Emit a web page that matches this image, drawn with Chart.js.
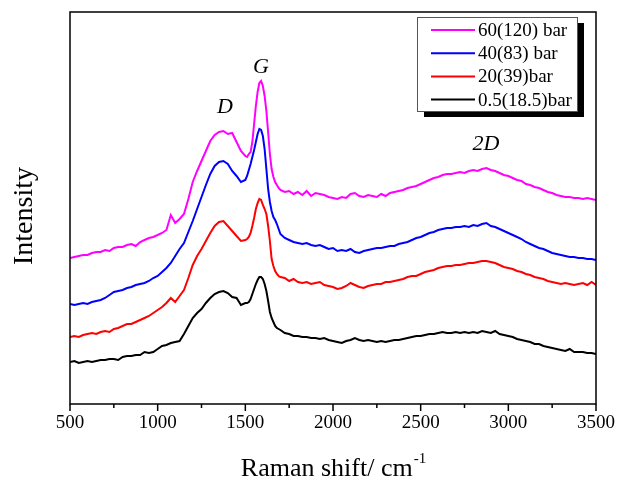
<!DOCTYPE html>
<html>
<head>
<meta charset="utf-8">
<script src="https://cdn.jsdelivr.net/npm/chart.js@4.4.0/dist/chart.umd.min.js"></script>
<style>
  html, body { margin: 0; padding: 0; background: #fff; }
  #wrap { width: 619px; height: 479px; }
</style>
</head>
<body>
<div id="wrap"><canvas id="raman"></canvas></div>
<script>
// Raman shift (cm-1): 25 step, finer around the G band
const shift = [
  500,525,550,575,600,625,650,675,700,725,750,775,800,825,850,875,900,925,950,975,
  1000,1025,1050,1075,1100,1125,1150,1175,1200,1225,1250,1275,1300,1325,1350,1375,1400,1425,1450,1475,1500,
  1510,1520,1530,1540,1550,1560,1570,1580,1590,1600,1610,1620,1630,1640,1650,1660,1670,1680,1690,
  1700,1725,1750,1775,1800,1825,1850,1875,1900,1925,1950,1975,2000,2025,2050,2075,2100,2125,2150,2175,
  2200,2225,2250,2275,2300,2325,2350,2375,2400,2425,2450,2475,2500,2525,2550,2575,2600,2625,2650,2675,
  2700,2725,2750,2775,2800,2825,2850,2875,2900,2925,2950,2975,3000,3025,3050,3075,3100,3125,3150,3175,
  3200,3225,3250,3275,3300,3325,3350,3375,3400,3425,3450,3475,3500
];

const seriesNames = ['60(120) bar', '40(83) bar', '20(39)bar', '0.5(18.5)bar'];
const seriesColors = ['#ff00ff', '#0000ff', '#ff0000', '#000000'];

// intensities (arbitrary units, offset curves as in the figure)
const bar60 = [
  146,147,148,149,149,151,152,152,154,153,156,157,157,159,160,158,162,164,166,167,
  169,171,174,189,181,185,190,205,222,233,243,253,263,269,272,273,270,271,262,253,248,
  247,250,252,262,280,298,312,321,323,318,308,293,272,250,235,227,222,219,216,
  214,212,213,210,212,209,213,208,211,210,209,207,206,205,207,206,210,211,208,207,
  209,208,207,210,208,211,212,213,214,216,217,218,220,222,224,226,227,229,230,230,
  231,232,231,233,234,233,235,236,234,233,231,229,228,226,224,223,220,219,217,216,
  214,212,211,209,208,207,207,206,206,205,206,205,204
];
const bar40 = [
  100,99,100,101,100,102,103,104,106,109,112,113,114,116,117,119,120,121,123,126,
  128,132,136,141,148,155,161,172,183,195,207,219,230,238,242,243,240,233,228,222,224,
  228,234,240,247,254,262,270,275,274,268,255,235,215,202,193,187,184,180,175,
  170,166,164,162,161,160,161,159,158,159,157,155,156,153,154,153,155,152,151,153,
  154,155,156,156,157,158,158,160,161,162,164,166,167,169,171,172,174,175,176,176,
  177,177,178,177,179,178,180,181,178,177,175,173,171,169,167,165,162,160,158,156,
  155,153,151,150,149,148,147,147,146,146,145,145,144
];
const bar20 = [
  67,68,67,69,70,71,70,72,73,72,75,76,78,80,80,82,84,86,88,91,
  94,97,101,106,102,108,114,126,139,148,155,163,171,178,182,183,178,173,168,163,164,
  165,167,171,178,186,195,201,205,204,199,195,190,178,163,145,138,133,130,128,
  127,126,123,125,122,121,122,120,121,122,119,118,117,115,116,118,121,119,117,116,
  118,119,120,120,122,122,123,124,125,127,128,128,130,132,133,134,136,137,138,138,
  139,139,140,141,141,142,143,143,142,141,139,137,136,135,133,132,130,129,127,126,
  125,123,122,121,120,121,120,119,120,121,119,122,119
];
const bar05 = [
  42,43,41,42,43,42,43,44,44,45,45,44,47,48,48,49,49,52,51,52,
  55,58,59,61,62,63,70,78,86,91,95,101,106,110,112,113,111,107,106,99,101,
  101,102,105,110,115,120,124,127,127,125,120,113,103,92,86,82,78,76,75,
  74,71,70,68,68,67,67,66,66,65,66,64,63,62,61,63,64,66,64,63,
  64,63,62,63,62,63,64,64,65,66,67,68,68,69,70,70,71,72,71,71,
  72,71,72,71,72,71,73,72,71,73,70,69,68,67,65,64,63,62,60,60,
  58,57,56,55,54,53,55,52,52,52,51,51,50
];

const xTicks = [500, 1000, 1500, 2000, 2500, 3000, 3500];
const peakLabels = [
  { text: 'D', x: 225, y: 107 },
  { text: 'G', x: 261, y: 67 },
  { text: '2D', x: 486, y: 144 }
];

const serif = "'Liberation Serif', 'Times New Roman', serif";
const allSeries = [bar60, bar40, bar20, bar05];

const datasets = allSeries.map((vals, i) => ({
  label: seriesNames[i],
  data: shift.map((x, j) => ({ x: x, y: vals[j] })),
  borderColor: seriesColors[i],
  borderWidth: 2,
  pointRadius: 0,
  tension: 0,
  fill: false
}));

// frame, outward ticks, titles, peak labels and the shadowed legend
const decor = {
  id: 'decor',
  afterDraw(chart) {
    const ctx = chart.ctx;
    const a = chart.chartArea;
    const xs = chart.scales.x;
    ctx.save();
    ctx.strokeStyle = '#000';
    ctx.lineWidth = 1.5;
    ctx.strokeRect(a.left, a.top, a.right - a.left, a.bottom - a.top);

    for (let v = 500; v <= 3500; v += 250) {
      const px = xs.getPixelForValue(v);
      const len = (v % 500 === 0) ? 7 : 4;
      ctx.beginPath();
      ctx.moveTo(px, a.bottom);
      ctx.lineTo(px, a.bottom + len);
      ctx.stroke();
    }

    // axis titles
    ctx.fillStyle = '#000';
    ctx.textBaseline = 'alphabetic';
    const main = 'Raman shift/ cm';
    ctx.font = '26px ' + serif;
    const w1 = ctx.measureText(main).width;
    ctx.font = '15px ' + serif;
    const w2 = ctx.measureText('-1').width;
    const startX = (a.left + a.right) / 2 - (w1 + w2) / 2;
    ctx.font = '26px ' + serif;
    ctx.textAlign = 'left';
    ctx.fillText(main, startX, 476);
    ctx.font = '15px ' + serif;
    ctx.fillText('-1', startX + w1 + 1, 463);

    ctx.save();
    ctx.translate(32, 216);
    ctx.rotate(-Math.PI / 2);
    ctx.font = '28px ' + serif;
    ctx.textAlign = 'center';
    ctx.fillText('Intensity', 0, 0);
    ctx.restore();

    // peak labels
    ctx.font = 'italic 22px ' + serif;
    ctx.textAlign = 'center';
    ctx.textBaseline = 'middle';
    peakLabels.forEach(p => ctx.fillText(p.text, p.x, p.y));

    // legend with drop shadow
    const bx = 417, by = 17, bw = 160, bh = 94;
    ctx.fillStyle = '#000';
    ctx.fillRect(bx + 7, by + 6, bw, bh);
    ctx.fillStyle = '#fff';
    ctx.fillRect(bx, by, bw, bh);
    ctx.strokeStyle = '#555';
    ctx.lineWidth = 1;
    ctx.strokeRect(bx + 0.5, by + 0.5, bw, bh);
    ctx.font = '19px ' + serif;
    ctx.textAlign = 'left';
    ctx.textBaseline = 'middle';
    chart.data.datasets.forEach((ds, i) => {
      const ry = 30 + i * 23.2;
      ctx.strokeStyle = ds.borderColor;
      ctx.lineWidth = 2;
      ctx.beginPath();
      ctx.moveTo(431, ry);
      ctx.lineTo(475, ry);
      ctx.stroke();
      ctx.fillStyle = '#000';
      ctx.fillText(ds.label, 478, ry + 1);
    });
    ctx.restore();
  }
};

new Chart(document.getElementById('raman'), {
  type: 'line',
  data: { datasets: datasets },
  options: {
    responsive: true,
    maintainAspectRatio: false,
    animation: false,
    layout: { padding: { left: 0, right: 23, top: 12, bottom: 0 } },
    plugins: {
      legend: { display: false },
      tooltip: { enabled: false }
    },
    scales: {
      x: {
        type: 'linear',
        min: 500,
        max: 3500,
        grid: { display: false, drawTicks: false },
        border: { display: false },
        afterBuildTicks: s => { s.ticks = xTicks.map(v => ({ value: v })); },
        afterFit: s => { s.height = 75; s.paddingLeft = 0; s.paddingRight = 0; },
        ticks: {
          padding: 8,
          color: '#000',
          font: { family: serif, size: 19 },
          maxRotation: 0,
          autoSkip: false,
          callback: v => String(v)
        }
      },
      y: {
        min: 0,
        max: 392,
        grid: { display: false, drawTicks: false },
        border: { display: false },
        ticks: { display: false },
        afterFit: s => { s.width = 70; }
      }
    }
  },
  plugins: [decor]
});
</script>
</body>
</html>
